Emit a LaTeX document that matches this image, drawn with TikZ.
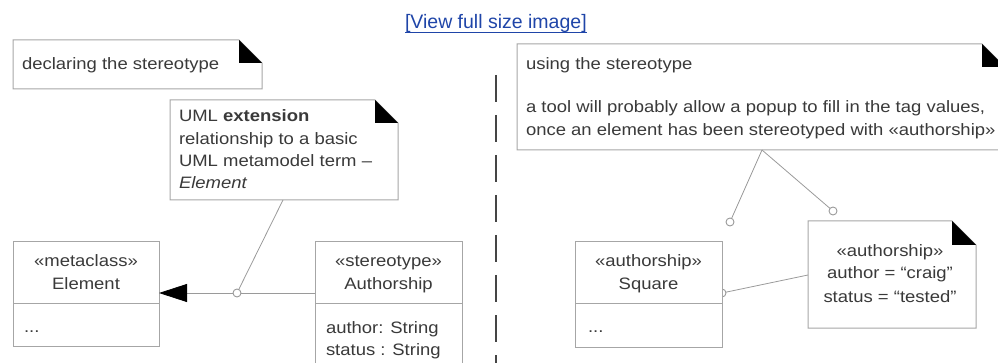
\documentclass[tikz,border=0pt]{standalone}
\usepackage{fontspec}
\setmainfont{Liberation Sans}[FakeStretch=1.12]
\newfontfamily\linkfont{Liberation Sans}
\usetikzlibrary{arrows.meta}
\definecolor{txt}{HTML}{3A3A3A}
\definecolor{bord}{HTML}{A6A6A6}
\definecolor{conn}{HTML}{9A9A9A}
\definecolor{dashcol}{HTML}{454545}
\definecolor{linkcol}{HTML}{1F45A8}
\newcommand\dogear[2]{%
  \draw[bord, line width=1pt, fill=white] (#1.north west) -- ([xshift=-#2]#1.north east) -- ([yshift=-#2]#1.north east) -- (#1.south east) -- (#1.south west) -- cycle;
  \fill[black] ([xshift=-#2]#1.north east) -- ([xshift=-#2,yshift=-#2]#1.north east) -- ([yshift=-#2]#1.north east) -- cycle;}
\begin{document}
\begin{tikzpicture}[x=1pt,y=-1pt,
  every node/.style={inner sep=0pt, outer sep=0pt, text=txt, font=\fontsize{16.5}{22}\selectfont},
  lbl/.style={anchor=base west},
  clbl/.style={anchor=base},
  frame/.style={anchor=north west, minimum width=#1},
  classbox/.style={draw=bord, line width=1pt, fill=white, anchor=north west},
  conline/.style={draw=conn, line width=0.8pt},
  lollipop/.style={circle, draw=conn, line width=0.9pt, fill=white, minimum size=8pt}]
\useasboundingbox (0,0) rectangle (998,363);
\clip (0,0) rectangle (998,363);

% link
\node[lbl, text=linkcol, font=\linkfont\fontsize{19.5}{22}\selectfont] (link) at (405,29) {[View full size image]};
\draw[linkcol, line width=1pt] ([yshift=-4pt]link.base west) -- ([yshift=-4pt]link.base east);

% dashed separator
\coordinate (sep1) at (496,75);
\coordinate (sep2) at (496,365);
\draw[dashcol, line width=2.6pt, dash pattern=on 27pt off 13pt] (sep1) -- (sep2);

% ---------- left side ----------
\node[frame=249pt, minimum height=49pt] (n1) at (13,40) {};
\dogear{n1}{23pt}
\node[lbl] (n1t) at (22,70) {declaring the stereotype};

\node[frame=228pt, minimum height=100pt] (n2) at (170,100) {};
\dogear{n2}{23pt}
\node[lbl] (n2a) at (179,122) {UML \textbf{extension}};
\node[lbl] (n2b) at (179,145) {relationship to a basic};
\node[lbl] (n2c) at (179,167) {UML metamodel term –};
\node[lbl] (n2d) at (179,189) {\textit{Element}};

% Element class
\node[classbox, minimum width=146pt, minimum height=104pt] (el) at (13,242) {};
\coordinate (eldiv) at (13,303);
\draw[bord, line width=1pt] (eldiv) -- (el.east |- eldiv);
\node[clbl] (el1) at (86,267) {«metaclass»};
\node[clbl] (el2) at (86,290) {Element};
\node[lbl] (el3) at (24,332) {...};

% Authorship class
\node[classbox, minimum width=147pt, minimum height=130pt] (au) at (315,242) {};
\coordinate (audiv) at (315,303);
\draw[bord, line width=1pt] (audiv) -- (au.east |- audiv);
\node[clbl] (au1) at (388.5,267) {«stereotype»};
\node[clbl] (au2) at (388.5,290) {Authorship};
\node[lbl] (au3) at (326,333) {author: String};
\node[lbl] (au4) at (326,355) {status : String};

% extension
\coordinate (auw) at (315,293);
\coordinate (ele) at (159,293);
\draw[conline, -{Triangle[length=28pt,width=18pt,color=black,fill=black]}] (auw) -- (ele);
\node[lollipop] (c1) at (237,293) {};
\coordinate (n2anchor) at (283,200);
\draw[conline] (n2anchor) -- (c1);

% ---------- right side ----------
\node[frame=488pt, minimum height=106pt] (n3) at (517,44) {};
\dogear{n3}{23pt}
\node[lbl] (n3a) at (526,70) {using the stereotype};
\node[lbl] (n3b) at (526,113) {a tool will probably allow a popup to fill in the tag values,};
\node[lbl] (n3c) at (526,136) {once an element has been stereotyped with «authorship»};

% Square class
\node[lollipop] (c4) at (722,293) {};
\node[classbox, minimum width=147pt, minimum height=105pt] (sq) at (575,242) {};
\coordinate (sqdiv) at (575,303);
\draw[bord, line width=1pt] (sqdiv) -- (sq.east |- sqdiv);
\node[clbl] (sq1) at (648.5,267) {«authorship»};
\node[clbl] (sq2) at (648.5,290) {Square};
\node[lbl] (sq3) at (588,332) {...};

% tagged values note
\node[frame=168pt, minimum height=107pt] (tv) at (808,221) {};
\dogear{tv}{24pt}
\node[clbl] (tv1) at (890,257) {«authorship»};
\node[clbl] (tv2) at (890,279) {author = “craig”};
\node[clbl] (tv3) at (890,302) {status = “tested”};

\node[lollipop] (c2) at (730,222) {};
\node[lollipop] (c3) at (833,211) {};
\coordinate (n3anchor) at (762,150);
\draw[conline] (n3anchor) -- (c2);
\draw[conline] (n3anchor) -- (c3);
\coordinate (tvw) at (808,275);
\draw[conline] (tvw) -- (c4);
\end{tikzpicture}
\end{document}
